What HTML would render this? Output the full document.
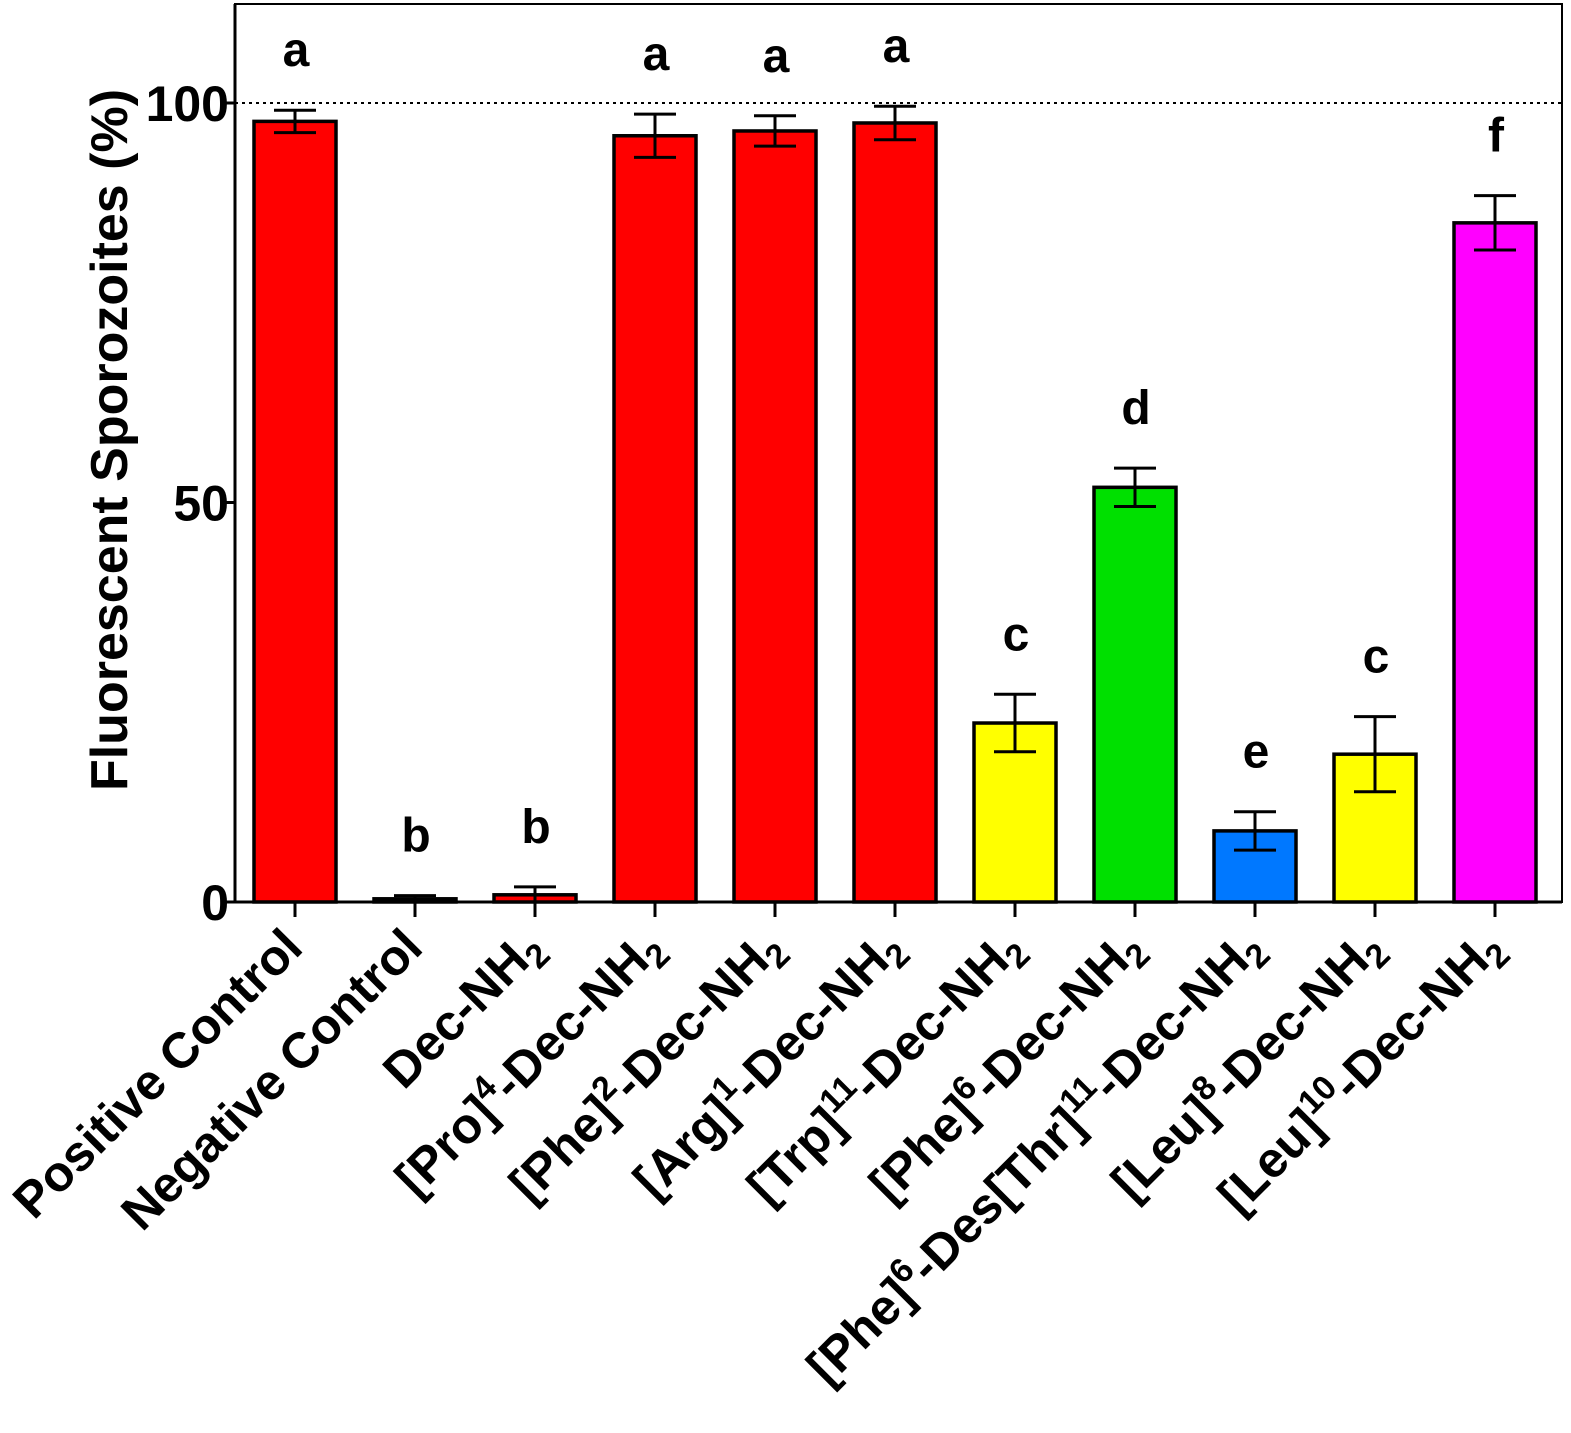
<!DOCTYPE html>
<html><head><meta charset="utf-8"><style>
html,body{margin:0;padding:0;background:#fff;}
svg{display:block;font-family:"Liberation Sans",Arial,sans-serif;font-weight:bold;}
</style></head><body>
<svg id="chart" width="1571" height="1433" viewBox="0 0 1571 1433"></svg>
<script>
const categories=["Positive Control","Negative Control","Dec-NH2","[Pro]4-Dec-NH2","[Phe]2-Dec-NH2","[Arg]1-Dec-NH2","[Trp]11-Dec-NH2","[Phe]6-Dec-NH2","[Phe]6-Des[Thr]11-Dec-NH2","[Leu]8-Dec-NH2","[Leu]10-Dec-NH2"];
const values=[97.7,0.4,0.9,95.9,96.5,97.5,22.4,51.9,8.9,18.5,85.0];
const errors=[1.4,0.4,1.0,2.7,1.9,2.1,3.6,2.4,2.4,4.7,3.4];
const letters=["a","b","b","a","a","a","c","d","e","c","f"];
const colors=["#ff0000","#ff0000","#ff0000","#ff0000","#ff0000","#ff0000","#ffff00","#00e000","#0078ff","#ffff00","#ff00ff"];
const yTicks=[0,50,100];
const labelParts=[
 [["Positive Control","n"]],
 [["Negative Control","n"]],
 [["Dec-NH","n"],["2","sub"]],
 [["[Pro]","n"],["4","sup"],["-Dec-NH","n"],["2","sub"]],
 [["[Phe]","n"],["2","sup"],["-Dec-NH","n"],["2","sub"]],
 [["[Arg]","n"],["1","sup"],["-Dec-NH","n"],["2","sub"]],
 [["[Trp]","n"],["11","sup"],["-Dec-NH","n"],["2","sub"]],
 [["[Phe]","n"],["6","sup"],["-Dec-NH","n"],["2","sub"]],
 [["[Phe]","n"],["6","sup"],["-Des[Thr]","n"],["11","sup"],["-Dec-NH","n"],["2","sub"]],
 [["[Leu]","n"],["8","sup"],["-Dec-NH","n"],["2","sub"]],
 [["[Leu]","n"],["10","sup"],["-Dec-NH","n"],["2","sub"]]
];
const NS="http://www.w3.org/2000/svg";
const svg=document.getElementById('chart');
const L=235,R=1562,T=4,B=902;
const y0=902,yPer=7.99;
const y=v=>y0-v*yPer;
const x0=295,step=120;
const x=i=>x0+i*step;
const bw=82;
function el(t,a,p){const e=document.createElementNS(NS,t);for(const k in a)e.setAttribute(k,a[k]);(p||svg).appendChild(e);return e;}
const frame=el('rect',{x:L,y:T,width:R-L,height:B-T,fill:'none',stroke:'#000','stroke-width':2});


const ref=el('line',{x1:L,x2:R,y1:y(100),y2:y(100),stroke:'#000','stroke-width':2,'stroke-dasharray':'3,4'});


const ya=el('line',{x1:L,x2:L,y1:T,y2:B,stroke:'#000','stroke-width':3});


yTicks.forEach(v=>{
 const t=el('line',{x1:L-12,x2:L,y1:y(v),y2:y(v),stroke:'#000','stroke-width':3});
 
 
 const tx=el('text',{x:L-6,y:y(v)+18,'text-anchor':'end','font-size':50});
 tx.textContent=v;
 
 
});
const yt=el('text',{transform:'translate(127,440) rotate(-90)','text-anchor':'middle','font-size':52});
yt.textContent='Fluorescent Sporozoites (%)';


const xa=el('line',{x1:L,x2:R,y1:B,y2:B,stroke:'#000','stroke-width':3});


categories.forEach((c,i)=>{
 const cx=x(i);
 const tk=el('line',{x1:cx,x2:cx,y1:B,y2:B+15,stroke:'#000','stroke-width':3});
 
 
 const bar=el('rect',{x:cx-bw/2,y:y(values[i]),width:bw,height:y0-y(values[i]),fill:colors[i],stroke:'#000','stroke-width':3.5});
 
 
 const eTop=y(values[i]+errors[i]),eBot=y(Math.max(0,values[i]-errors[i]));
 const g=el('g',{stroke:'#000','stroke-width':3});
 
 
 el('line',{x1:cx,x2:cx,y1:eTop,y2:eBot},g);
 el('line',{x1:cx-21,x2:cx+21,y1:eTop,y2:eTop},g);
 el('line',{x1:cx-21,x2:cx+21,y1:eBot,y2:eBot},g);
 const lt=el('text',{x:cx+1,y:eTop-44,'text-anchor':'middle','font-size':48});
 lt.textContent=letters[i];
 
 
 const xl=el('text',{transform:`translate(${cx+10},${B+48}) rotate(-45)`,'text-anchor':'end','font-size':50});
 
 
 labelParts[i].forEach((p,j)=>{
  const ts=el('tspan',{},xl);
  ts.textContent=p[0];
  if(p[1]==='sup'){ts.setAttribute('font-size',34);ts.setAttribute('dy',-19);}
  else if(p[1]==='sub'){ts.setAttribute('font-size',34);ts.setAttribute('dy',10);}
  else if(j>0){const pt=labelParts[i][j-1];ts.setAttribute('dy',pt[1]==='sup'?19:(pt[1]==='sub'?-10:0));}
 });
});
</script>
</body></html>
